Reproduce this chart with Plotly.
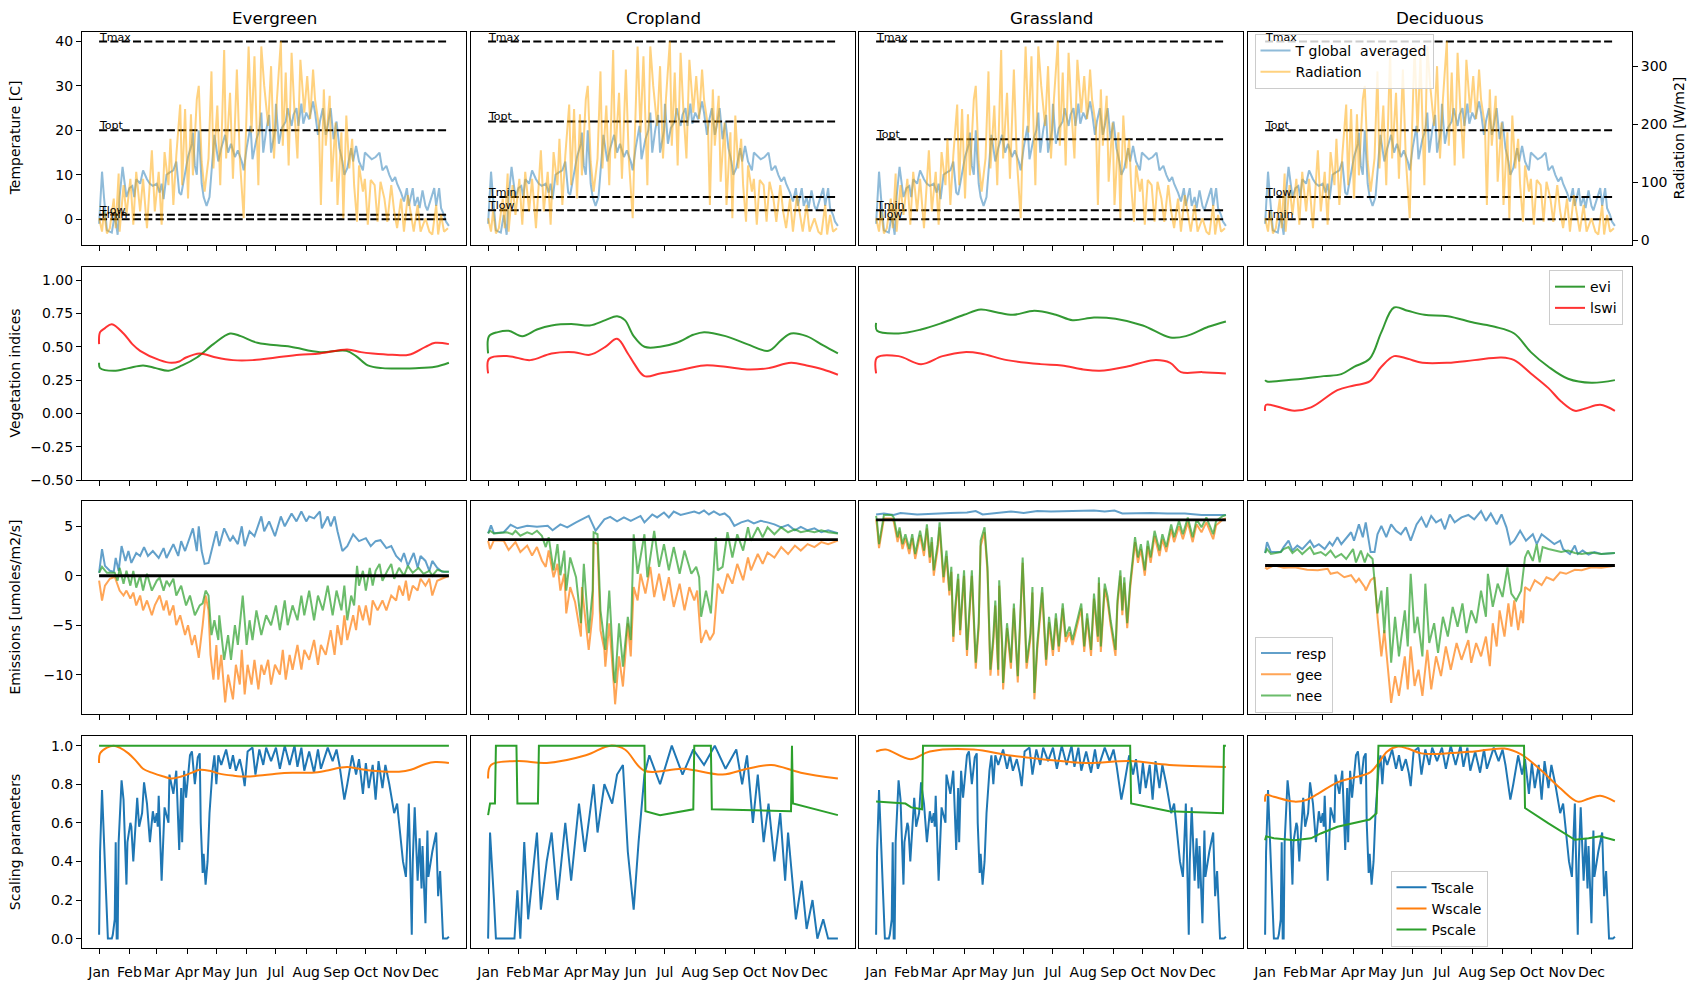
import plotly.graph_objects as go

W, H = 1697, 990
FONT = "DejaVu Sans"

COLUMNS = ["Evergreen", "Cropland", "Grassland", "Deciduous"]
MONTHS = ["Jan", "Feb", "Mar", "Apr", "May", "Jun", "Jul", "Aug", "Sep", "Oct", "Nov", "Dec"]
MONTH_START_DAYS = [0, 31, 59, 90, 120, 151, 181, 212, 243, 273, 304, 334]

# Temperature thresholds per column
TMAX = [40, 40, 40, 40]
TOPT = [20, 22, 18, 20]
TMIN = [0, 5, 2, 0]
TLOW = [1, 2, 0, 5]

# Horizontal reference line in the emissions row, per column
EMIS_REF = [0.0, 3.65, 5.65, 1.04]

# (day, value) pairs
TEMP = [(0,-1),(3,10.7),(5,5),(8,-2.5),(13,-3),(16,1),(19,-3.5),(21,5),(24,11.8),(27,7),(28,5),(31,7),(34,7.5),(36,5),(38,9),(42,8),(45,11),(49,9),(52,8),(55,7.5),(59,8),(62,6),(64,8),(66,4.5),(69,10),(72,10.5),(76,11),(79,13),(82,6),(84,5.5),(88,10),(91,14),(95,17),(96,19.5),(98,12),(100,10),(102,20),(105,8),(107,5),(110,3),(113,5),(115,10),(118,19),(122,13),(125,16),(129,19),(132,15),(135,17),(139,14),(142,15.5),(146,13),(148,11),(151,16),(155,21),(157,13.5),(161,18),(164,20),(166,24),(168,15),(171,20),(174,23.5),(176,15),(180,20),(181,26),(184,17),(187,20.5),(191,22),(193,25),(197,21),(199,23.5),(202,25),(204,21),(207,26),(209,21.5),(212,24),(215,22.5),(219,26.5),(221,24),(224,19),(226,22),(229,25),(232,19),(234,21),(237,25),(240,18),(243,22),(246,16),(249,13),(251,10),(254,11.5),(258,16),(260,13),(263,16.5),(266,13),(270,11),(272,15),(276,14),(279,13.5),(283,14),(287,15),(290,11),(294,12),(297,10),(300,8.5),(303,9.5),(305,8),(309,6),(312,4),(315,7),(317,3),(321,7),(323,3),(326,5),(328,2.5),(331,6.5),(334,3),(336,2),(340,5),(343,7),(345,3),(348,7),(350,2.5),(353,1),(355,-0.5),(358,-1.5)]

RADIATION = [(0,38),(3,15),(5,50),(8,12),(11,21),(15,72),(17,21),(20,115),(21,15),(25,95),(28,44),(32,106),(35,27),(38,118),(42,50),(45,106),(49,21),(54,155),(57,50),(61,118),(64,27),(67,152),(71,95),(73,175),(76,61),(79,146),(83,234),(85,95),(88,226),(91,72),(94,217),(96,112),(100,243),(102,266),(105,135),(108,84),(112,141),(115,291),(117,124),(121,232),(124,95),(128,328),(130,141),(134,254),(137,106),(141,294),(144,141),(148,38),(150,169),(153,334),(156,186),(159,317),(163,95),(166,334),(169,266),(173,197),(176,300),(179,141),(182,243),(186,343),(188,163),(191,289),(194,129),(197,323),(200,220),(203,141),(206,311),(210,220),(213,283),(216,209),(219,294),(221,243),(225,197),(227,61),(230,260),(232,163),(236,249),(238,101),(242,203),(244,61),(248,186),(250,38),(253,215),(256,124),(259,175),(261,95),(264,32),(266,129),(270,84),(272,106),(275,27),(278,104),(282,95),(285,32),(288,101),(292,72),(295,32),(299,95),(302,50),(305,21),(309,72),(312,15),(316,78),(319,44),(322,15),(326,61),(329,15),(334,38),(338,15),(341,10),(345,61),(347,10),(350,44),(353,15),(357,21)]

EVI = [
    [(0,0.38),(1,0.34),(15,0.32),(30,0.34),(45,0.36),(58,0.34),(71,0.32),(85,0.36),(100,0.42),(117,0.52),(134,0.60),(145,0.58),(162,0.53),(196,0.50),(226,0.46),(253,0.47),(263,0.43),(275,0.36),(290,0.34),(324,0.34),(344,0.35),(358,0.38)],
    [(0,0.45),(1,0.58),(10,0.61),(21,0.62),(35,0.58),(50,0.63),(65,0.66),(88,0.67),(104,0.66),(120,0.70),(132,0.73),(140,0.70),(149,0.58),(160,0.50),(176,0.50),(193,0.53),(210,0.59),(221,0.61),(243,0.58),(265,0.52),(287,0.47),(300,0.55),(310,0.60),(326,0.58),(343,0.51),(358,0.45)],
    [(0,0.68),(1,0.62),(23,0.60),(46,0.63),(68,0.68),(90,0.74),(107,0.78),(123,0.76),(140,0.74),(162,0.77),(184,0.74),(201,0.70),(223,0.72),(245,0.71),(273,0.66),(301,0.57),(317,0.58),(340,0.65),(358,0.69)],
    [(0,0.25),(2,0.24),(30,0.255),(60,0.28),(78,0.295),(91,0.35),(107,0.41),(119,0.61),(132,0.795),(146,0.77),(163,0.74),(187,0.73),(214,0.68),(235,0.65),(255,0.60),(272,0.46),(290,0.35),(310,0.26),(334,0.23),(358,0.25)],
]
LSWI = [
    [(0,0.52),(1,0.61),(6,0.64),(13,0.67),(25,0.60),(34,0.52),(42,0.47),(62,0.40),(74,0.38),(82,0.39),(89,0.42),(103,0.45),(110,0.44),(120,0.42),(137,0.40),(157,0.40),(181,0.42),(205,0.44),(226,0.45),(254,0.48),(268,0.46),(280,0.45),(300,0.44),(317,0.44),(334,0.50),(344,0.53),(358,0.52)],
    [(0,0.30),(1,0.41),(21,0.43),(43,0.40),(65,0.45),(88,0.46),(104,0.44),(120,0.50),(132,0.56),(143,0.45),(149,0.38),(160,0.28),(176,0.30),(193,0.32),(221,0.36),(243,0.35),(265,0.33),(287,0.34),(310,0.38),(326,0.36),(343,0.33),(358,0.29)],
    [(0,0.30),(1,0.42),(23,0.43),(46,0.37),(68,0.43),(90,0.46),(107,0.45),(134,0.40),(168,0.37),(190,0.36),(212,0.33),(229,0.32),(256,0.35),(284,0.40),(301,0.38),(312,0.31),(334,0.31),(358,0.30)],
    [(0,0.02),(1,0.065),(30,0.02),(47,0.045),(74,0.175),(91,0.21),(107,0.24),(119,0.35),(132,0.43),(146,0.41),(161,0.38),(187,0.38),(214,0.40),(242,0.42),(255,0.40),(272,0.30),(290,0.19),(303,0.09),(317,0.02),(327,0.035),(343,0.065),(358,0.02)],
]

RESP = [
    [(0,0.3),(3,2.7),(6,1),(11,0.5),(15,0.4),(17,1.8),(20,0.5),(23,3),(27,1.5),(30,2.5),(33,1.3),(38,2.3),(42,2),(46,2.9),(50,2),(55,2.5),(61,1.8),(66,2.8),(69,1.8),(76,3.2),(81,2),(84,3.5),(88,2.5),(96,4.8),(100,2.5),(102,5),(105,2.5),(108,1.2),(112,1.3),(117,3.5),(120,4.5),(123,3),(128,4.8),(134,3.5),(137,4),(142,3.2),(146,5),(149,3),(154,4.5),(159,4),(166,6),(169,4.5),(174,5.5),(180,4),(186,6),(190,5),(197,6.3),(202,5.5),(207,6.5),(212,5.5),(215,6),(220,5.8),(226,6.5),(228,4.8),(234,6),(237,5),(241,6),(244,4.5),(249,2.5),(254,3),(260,4.2),(266,3.5),(273,3.8),(278,3),(283,3.5),(288,3.6),(294,2.8),(299,3),(304,2),(309,1.5),(312,2.3),(316,1),(322,2.3),(326,0.8),(329,2),(334,1.5),(338,0.5),(341,1.5),(346,0.8),(351,0.4),(358,0.4)],
    [(0,4.28),(3,5.1),(6,4.3),(16,4.4),(23,5.15),(30,4.8),(40,5.05),(50,4.95),(61,5.05),(66,4.6),(74,5.2),(81,4.9),(90,5.4),(96,5.7),(103,6.05),(107,5.2),(110,4.55),(119,5.7),(125,5.95),(132,5.5),(139,5.9),(146,5.55),(156,6.05),(160,5.4),(168,6.2),(173,5.9),(180,6.4),(185,5.9),(190,6.5),(197,6.15),(204,6.3),(211,6.5),(216,6.3),(221,6.6),(226,6.2),(231,6.5),(237,6.15),(242,6.3),(247,5.9),(252,5.05),(259,5.4),(266,5.6),(272,5.3),(279,5.55),(286,5.4),(293,5.2),(300,4.9),(307,5.15),(314,4.6),(320,4.95),(327,4.6),(334,4.8),(341,4.4),(348,4.6),(358,4.3)],
    [(0,6.2),(8,6.3),(18,6.15),(25,6.35),(42,6.2),(59,6.3),(76,6.35),(93,6.4),(102,6.55),(109,6.2),(121,6.35),(138,6.5),(151,6.35),(165,6.55),(179,6.5),(196,6.55),(213,6.6),(223,6.6),(234,6.5),(244,6.6),(252,6.3),(264,6.35),(281,6.35),(298,6.3),(316,6.3),(333,6.15),(350,6.2),(358,6.15)],
    [(0,2.3),(2,3.4),(6,2.4),(16,2.4),(19,2.9),(24,3.55),(28,2.55),(33,3.05),(38,2.7),(46,3.55),(50,2.9),(55,3.2),(61,2.7),(66,3.4),(69,3.05),(74,3.9),(78,3.2),(88,4.4),(91,3.55),(96,5.2),(100,3.9),(103,5.4),(108,2.4),(112,2.4),(115,4.2),(119,5.05),(124,3.9),(129,5.2),(134,4.55),(139,4.2),(144,4.9),(149,3.55),(155,5.2),(160,5.9),(165,4.9),(170,6.05),(175,5.4),(180,5.7),(184,4.7),(189,6.2),(194,5.4),(201,5.9),(208,6.15),(214,5.7),(221,6.55),(226,5.55),(231,6.3),(237,5.2),(242,6.2),(247,4.9),(251,3.2),(255,3.55),(261,4.55),(267,3.55),(274,4.2),(278,3.2),(283,4.2),(290,3.7),(296,3.2),(302,3.55),(305,2.7),(312,2.2),(317,3.05),(320,2.2),(325,2.55),(331,2.15),(337,2.4),(344,2.2),(358,2.3)],
]
GEE = [
    [(0,-0.5),(3,-2.5),(6,-1),(11,-0.3),(16,-0.1),(19,-1),(21,-1.5),(25,-2),(28,-1.5),(32,-2.3),(35,-1.7),(38,-3),(42,-2),(45,-3.5),(49,-2.5),(54,-4),(57,-3),(62,-2),(66,-3.5),(69,-2.5),(72,-4),(76,-3),(79,-5),(83,-4),(88,-6),(91,-5),(95,-7),(98,-6),(102,-8.3),(106,-5),(109,-2),(112,-3.5),(114,-8),(117,-10.5),(120,-7),(122,-10.5),(125,-8),(129,-12.8),(132,-10),(137,-12.5),(140,-9),(144,-11),(146,-7.5),(149,-12),(152,-9),(156,-11),(159,-8.5),(163,-11.5),(166,-9),(169,-10),(173,-8.5),(176,-11),(180,-9),(185,-10),(188,-7.5),(191,-10.5),(195,-8),(198,-9.5),(203,-7),(207,-9.5),(210,-7.5),(215,-8.5),(220,-6.5),(224,-9),(227,-7),(232,-8),(237,-5.5),(241,-8),(244,-5),(248,-7),(251,-4),(254,-6.5),(260,-4),(263,-5.5),(266,-3),(270,-4.5),(273,-3),(277,-5),(280,-2.5),(285,-3.5),(290,-2.5),(294,-3.5),(299,-2),(304,-2.5),(307,-1),(311,-2),(314,-0.5),(317,-2.5),(321,-1),(326,-1.5),(329,-0.3),(334,-1),(338,-0.3),(341,-2),(346,-0.5),(353,-0.2),(358,0)],
    [(0,3.55),(2,2.7),(6,3.6),(16,3.55),(21,2.6),(28,3.4),(33,2.4),(40,3.05),(45,2.05),(50,2.9),(55,1.55),(59,0.9),(62,2.55),(67,-0.15),(71,1.2),(74,-1.5),(78,0.2),(80,-3.8),(84,-1.15),(89,-2.65),(95,-6.15),(96,-1.15),(103,-7.5),(107,-3.8),(108,3.4),(112,3.2),(115,-5.5),(119,-7.5),(120,-9.2),(124,-4.8),(129,-11.5),(130,-13),(134,-8.15),(138,-11.2),(143,-4.8),(146,-8.15),(149,-1.15),(153,-2.5),(156,0.2),(161,-1.8),(166,0.9),(170,-2.15),(175,0.2),(180,-2.5),(185,-0.15),(190,-3.15),(196,-0.8),(201,-3.5),(206,-1.15),(211,-2.5),(214,-1.5),(218,-6.8),(223,-5.5),(227,-6.5),(231,-5.8),(235,-0.8),(240,-1.8),(245,0.2),(250,-0.8),(255,1.2),(261,-0.45),(266,1.85),(269,0.55),(276,2.2),(281,1.2),(286,2.35),(293,1.85),(300,2.9),(307,2.2),(314,3.05),(320,2.55),(327,3.2),(334,2.9),(341,3.4),(348,3.2),(358,3.55)],
    [(0,5.7),(1,5.0),(3,2.8),(6,4.8),(8,5.8),(16,5.8),(18,5.5),(22,3.4),(24,4.5),(27,2.7),(30,3.8),(34,2.2),(37,3.8),(40,1.7),(45,4.1),(49,2.0),(52,4.8),(55,1.3),(57,3.4),(59,0.0),(63,2.7),(65,4.9),(69,-0.7),(72,2.0),(75,-2.0),(77,0.4),(79,-6.7),(81,-3.7),(84,-0.3),(86,-6.0),(90,0.0),(93,-8.1),(98,0.0),(102,-9.4),(105,-5.3),(107,3.0),(111,4.4),(114,0.4),(117,-10.1),(120,-6.7),(122,-3.0),(125,-10.1),(126,-1.0),(129,-7.4),(130,-11.5),(134,-5.3),(138,-9.4),(141,-3.3),(145,-10.8),(150,1.3),(154,-9.4),(158,-6.3),(160,-1.7),(162,-12.5),(165,-7.4),(170,-1.7),(174,-9.1),(177,-4.7),(181,-8.1),(184,-4.3),(187,-7.7),(191,-3.3),(194,-6.7),(198,-5.7),(201,-7.0),(210,-3.3),(213,-7.7),(216,-4.3),(220,-8.1),(223,-2.3),(227,-6.7),(228,-0.7),(230,-7.7),(234,-1.3),(237,-2.7),(240,-5.0),(245,-8.1),(247,-3.0),(250,0.0),(252,-4.0),(254,-0.7),(257,-5.3),(260,-1.3),(265,3.4),(268,1.3),(271,2.7),(275,0.0),(278,3.0),(281,1.3),(285,4.0),(290,2.0),(293,3.7),(297,2.4),(302,4.7),(305,3.4),(310,5.0),(314,3.7),(319,5.4),(324,3.4),(328,5.2),(333,4.4),(338,5.4),(345,3.7),(348,5.1),(355,5.7),(358,5.8)],
    [(0,0.85),(2,0.7),(9,1.05),(19,0.8),(30,0.85),(43,0.6),(54,0.55),(64,0.7),(67,0.2),(74,0.35),(81,-0.15),(88,0.05),(93,-0.65),(96,-0.3),(102,-1.15),(103,-1.5),(108,-0.45),(112,-0.15),(115,-4.15),(119,-8.15),(122,-5.5),(125,-8.8),(129,-12.85),(133,-10.15),(137,-12.15),(143,-8.15),(146,-11.5),(149,-7.15),(153,-11.15),(157,-9.5),(161,-12.15),(166,-7.5),(170,-11.5),(175,-8.15),(180,-10.15),(185,-7.15),(190,-9.5),(196,-6.8),(201,-8.5),(208,-6.5),(211,-8.8),(216,-6.8),(221,-8.15),(226,-6.15),(230,-9.15),(233,-4.8),(237,-7.15),(240,-3.5),(245,-6.15),(249,-2.8),(252,-5.15),(255,-2.5),(259,-5.5),(262,-3.5),(264,-4.8),(266,-1.15),(271,-1.5),(276,-0.45),(283,-0.95),(288,-0.15),(295,-0.45),(302,0.35),(308,0.2),(317,0.6),(324,0.55),(334,0.85),(344,0.8),(355,0.95),(358,1.05)],
]
NEE = [
    [(0,0.3),(3,0.9),(8,0.3),(16,0.3),(19,-0.5),(21,0.8),(25,-0.8),(28,0.5),(32,-1),(35,0.5),(38,-1.2),(42,0),(45,-1.5),(49,0.2),(54,-1.5),(59,-0.5),(62,-0.2),(66,-1.5),(69,-0.5),(72,-1),(76,-0.3),(79,-2),(84,-1),(89,-3),(93,-2),(98,-4),(103,-3),(106,-2.8),(109,-1.5),(112,-2),(115,-6),(118,-4.5),(122,-6.5),(123,-4),(128,-8.5),(132,-6),(135,-8.5),(139,-5),(142,-7),(147,-2),(151,-7),(154,-4.5),(157,-6.5),(161,-3.5),(166,-6),(171,-4),(176,-5),(181,-3),(185,-5.5),(190,-2.5),(193,-5),(198,-3),(203,-4.5),(207,-2),(210,-4),(215,-1.5),(220,-4.5),(224,-2),(229,-3.5),(234,-1),(239,-4),(243,-1.5),(248,-3.5),(251,-1),(254,-4.5),(258,-2),(261,-3),(264,1),(266,-1),(270,0.5),(273,-1.5),(277,0.8),(280,-1),(283,0.5),(287,1.2),(290,-0.5),(295,0.5),(299,1.2),(302,-0.3),(307,0.8),(312,0),(316,1),(321,0.3),(327,0.8),(332,0.2),(338,0.5),(341,0),(346,0.6),(353,0.4),(358,0.4)],
    [(0,4.28),(2,4.55),(6,4.28),(19,4.4),(25,4.2),(28,4.55),(33,4.05),(40,4.4),(45,4.2),(50,4.55),(55,4.05),(59,2.9),(62,3.9),(67,0.55),(71,3.2),(74,0.05),(78,2.55),(80,-1.5),(84,1.85),(90,-0.15),(95,-4.8),(98,1.2),(103,-5.8),(107,-1.5),(108,4.4),(112,4.2),(115,-3.5),(119,-6.5),(120,-7.5),(124,-1.5),(129,-10.5),(130,-10.85),(134,-4.8),(138,-9.2),(143,-4.15),(146,-6.5),(149,4.2),(153,0.2),(160,4.2),(163,-0.15),(170,4.55),(175,0.9),(180,3.2),(185,0.55),(190,2.9),(196,0.2),(201,2.55),(208,0.2),(213,0.9),(216,-0.15),(218,-4.15),(223,-1.5),(228,-3.8),(233,3.9),(235,0.55),(240,0.9),(245,4.4),(250,1.85),(255,4.2),(261,2.55),(266,4.9),(269,3.55),(276,4.9),(281,3.9),(286,4.9),(293,4.2),(300,4.9),(307,4.4),(314,4.7),(320,4.4),(327,4.55),(334,4.4),(341,4.6),(348,4.4),(358,4.28)],
    [(0,6.05),(1,5.4),(3,3.2),(6,5.2),(8,6.15),(16,6.15),(18,5.9),(22,3.9),(24,4.9),(27,3.2),(30,4.2),(34,2.7),(37,4.2),(40,2.2),(45,4.55),(49,2.55),(52,5.2),(55,1.85),(57,3.9),(59,0.55),(63,3.2),(65,5.4),(69,-0.15),(72,2.55),(75,-1.5),(77,0.9),(79,-6.15),(81,-3.15),(84,0.2),(86,-5.5),(90,0.55),(93,-7.5),(98,0.55),(102,-8.8),(105,-4.8),(107,3.55),(111,4.9),(114,0.9),(117,-9.5),(120,-6.15),(122,-2.5),(125,-9.5),(126,-0.45),(129,-6.8),(130,-10.85),(134,-4.8),(138,-8.8),(141,-2.8),(145,-10.15),(150,1.85),(154,-8.8),(158,-5.8),(160,-1.15),(162,-11.85),(165,-6.8),(170,-1.15),(174,-8.5),(177,-4.15),(181,-7.5),(184,-3.8),(187,-7.15),(191,-2.8),(194,-6.15),(198,-5.15),(201,-6.5),(210,-2.8),(213,-7.15),(216,-3.8),(220,-7.5),(223,-1.8),(227,-6.15),(228,-0.15),(230,-7.15),(234,-0.8),(237,-2.15),(240,-4.5),(245,-7.5),(247,-2.5),(250,0.55),(252,-3.5),(254,-0.15),(257,-4.8),(260,-0.8),(265,3.9),(268,1.85),(271,3.2),(275,0.55),(278,3.55),(281,1.85),(285,4.55),(290,2.55),(293,4.2),(297,2.9),(302,5.2),(305,3.9),(310,5.55),(314,4.2),(319,5.9),(324,3.9),(328,5.7),(333,4.9),(338,5.9),(345,4.2),(348,5.55),(355,6.05),(358,6.15)],
    [(0,2.3),(2,2.7),(6,2.2),(16,2.4),(19,2.7),(24,2.9),(28,2.3),(33,2.7),(38,2.2),(46,2.9),(50,2.2),(57,2.4),(62,2.05),(67,2.55),(72,1.85),(78,2.2),(83,1.7),(90,2.7),(93,1.35),(98,2.55),(102,1.35),(105,2.2),(110,1.7),(112,-0.45),(115,-3.8),(119,-1.5),(122,-5.8),(125,-1.15),(129,-8.8),(133,-4.15),(137,-8.15),(143,-3.5),(146,-7.15),(149,0.2),(153,-5.8),(156,-4.15),(161,-8.15),(164,-0.8),(168,-6.8),(173,-4.8),(177,-7.8),(182,-4.15),(187,-6.15),(192,-3.15),(197,-5.15),(202,-2.8),(206,-5.8),(211,-3.5),(216,-4.8),(221,-1.5),(226,-4.15),(228,0.2),(233,-3.15),(238,-0.8),(243,-2.15),(248,0.85),(252,-1.8),(257,-2.5),(262,-1.5),(266,1.85),(269,2.55),(274,1.5),(278,3.2),(281,1.35),(284,2.9),(290,2.7),(296,2.55),(303,2.4),(310,2.55),(317,2.3),(324,2.2),(334,2.35),(344,2.2),(358,2.3)],
]

# Temperature scale (Evergreen and Deciduous share thresholds, identical curve)
TSCALE_T0 = [(0,0.02),(1,0.45),(3,0.77),(5,0.55),(7,0.25),(9,0.0),(13,0.0),(14,0.02),(15,0.08),(16,0.1),(17,0.5),(18,0.0),(19,0.0),(20,0.5),(23,0.82),(25,0.72),(28,0.28),(29,0.5),(32,0.6),(33,0.58),(35,0.4),(38,0.7),(39,0.73),(41,0.58),(44,0.65),(46,0.81),(49,0.7),(52,0.5),(55,0.66),(57,0.6),(59,0.65),(60,0.58),(61,0.74),(64,0.3),(66,0.55),(67,0.68),(71,0.6),(72,0.85),(76,0.75),(79,0.87),(82,0.46),(84,0.78),(85,0.5),(87,0.87),(89,0.73),(93,0.95),(95,0.97),(98,0.8),(101,0.94),(103,0.96),(104,0.6),(106,0.34),(107,0.44),(109,0.28),(111,0.4),(113,0.65),(116,0.87),(118,0.95),(120,0.8),(122,0.95),(125,0.9),(130,0.98),(134,0.88),(137,0.95),(140,0.87),(144,0.93),(147,0.86),(149,0.79),(152,0.97),(157,0.99),(160,0.85),(164,0.98),(168,0.9),(171,0.99),(176,0.92),(181,0.99),(185,0.88),(190,1.0),(195,0.9),(200,1.0),(203,0.89),(207,0.99),(210,0.87),(215,0.97),(220,0.86),(224,0.98),(227,0.88),(234,0.99),(239,0.92),(243,0.98),(246,0.9),(251,0.72),(254,0.8),(259,0.95),(263,0.85),(266,0.93),(270,0.75),(273,0.91),(276,0.78),(280,0.9),(283,0.72),(286,0.92),(290,0.78),(293,0.9),(297,0.8),(300,0.72),(302,0.65),(305,0.7),(307,0.6),(311,0.4),(314,0.32),(317,0.7),(320,0.02),(321,0.4),(323,0.68),(326,0.3),(328,0.52),(330,0.26),(331,0.48),(334,0.08),(336,0.56),(337,0.32),(341,0.45),(345,0.55),(347,0.22),(349,0.35),(352,0.0),(356,0.0),(358,0.01)]
TSCALE_CROPLAND = [(0,0.0),(2,0.55),(6,0.2),(8,0.0),(27,0.0),(30,0.25),(33,0.0),(37,0.5),(41,0.1),(46,0.35),(50,0.55),(54,0.15),(60,0.4),(65,0.55),(71,0.2),(79,0.6),(85,0.3),(93,0.7),(99,0.45),(108,0.8),(112,0.55),(119,0.8),(127,0.7),(132,0.85),(138,0.9),(143,0.45),(149,0.15),(154,0.5),(160,0.85),(165,0.95),(176,0.8),(188,1.0),(199,0.85),(210,0.98),(221,0.9),(232,1.0),(243,0.88),(254,0.98),(260,0.8),(265,0.95),(271,0.6),(276,0.85),(282,0.5),(287,0.7),(293,0.4),(299,0.65),(304,0.3),(307,0.55),(315,0.1),(321,0.3),(326,0.05),(332,0.2),(337,0.0),(343,0.1),(348,0.0),(358,0.0)]
TSCALE_GRASSLAND = TSCALE_T0
TSCALE = [TSCALE_T0, TSCALE_CROPLAND, TSCALE_GRASSLAND, TSCALE_T0]

WSCALE = [
    [(0,0.91),(1,0.96),(8,0.99),(15,1.0),(21,0.99),(30,0.96),(38,0.92),(45,0.88),(54,0.86),(66,0.84),(74,0.83),(84,0.84),(95,0.86),(103,0.875),(113,0.87),(123,0.855),(137,0.845),(150,0.84),(164,0.845),(181,0.855),(198,0.86),(218,0.86),(232,0.87),(246,0.885),(254,0.89),(266,0.88),(280,0.87),(294,0.865),(307,0.865),(319,0.875),(334,0.905),(344,0.915),(358,0.91)],
    [(0,0.83),(3,0.90),(30,0.92),(60,0.91),(100,0.95),(125,1.0),(140,0.98),(160,0.87),(200,0.88),(240,0.85),(265,0.88),(290,0.9),(320,0.86),(358,0.83)],
    [(0,0.97),(10,0.98),(35,0.93),(55,0.97),(100,0.98),(135,0.95),(170,0.93),(215,0.91),(260,0.92),(300,0.9),(358,0.89)],
    [(0,0.71),(1,0.745),(9,0.735),(30,0.71),(43,0.72),(54,0.75),(74,0.81),(91,0.835),(107,0.86),(116,0.91),(125,0.97),(136,0.995),(146,0.985),(160,0.96),(187,0.96),(214,0.97),(245,0.985),(262,0.955),(283,0.87),(303,0.775),(320,0.71),(331,0.725),(343,0.74),(358,0.71)],
]
PSCALE = [
    [(0,1.0),(358,1.0)],
    [(0,0.64),(2,0.70),(7,0.70),(8,1.0),(29,1.0),(30,0.70),(51,0.70),(52,1.0),(160,1.0),(161,0.66),(176,0.64),(210,0.67),(211,1.0),(228,1.0),(229,0.67),(310,0.66),(311,1.0),(312,0.70),(358,0.64)],
    [(0,0.71),(30,0.70),(36,0.68),(47,0.67),(48,1.0),(260,1.0),(261,0.70),(300,0.66),(355,0.65),(356,1.0),(358,1.0)],
    [(0,0.51),(1,0.53),(9,0.52),(30,0.51),(47,0.52),(57,0.545),(74,0.58),(91,0.60),(107,0.617),(114,0.65),(116,1.0),(265,1.0),(266,0.677),(290,0.597),(317,0.512),(331,0.52),(343,0.53),(358,0.51)],
]

# ---------------- layout geometry (pixels) ----------------
X_EDGES = [(82, 466), (471, 855), (859, 1243), (1248, 1632)]
Y_EDGES = [(32, 247), (269, 484), (505, 720), (742, 956)]
X_RANGE = [-17.5, 375.5]
Y_RANGES = [[-5.8, 42.2], [-0.5, 1.1], [-14.0, 7.57], [-0.05, 1.05]]
Y_TICKS = [[0, 10, 20, 30, 40], [-0.5, -0.25, 0, 0.25, 0.5, 0.75, 1.0],
           [-10, -5, 0, 5], [0, 0.2, 0.4, 0.6, 0.8, 1.0]]
Y_FMT = ["d", ".2f", "d", ".1f"]
RAD_RANGE = [-8.0, 359.3]
ROW_TITLES = ["Temperature [C]", "Vegetation indices", "Emissions [umoles/m2/s]", "Scaling parameters"]
# legend box centres (pixels)
LEGEND_CENTRES = [(1344, 62), (1586, 300), (1294, 680), (1439, 916)]


def unzip(pairs):
    return [p[0] for p in pairs], [p[1] for p in pairs]


def ax_names(r, c):
    k = r * 4 + c + 1
    return ("x" if k == 1 else f"x{k}"), ("y" if k == 1 else f"y{k}"), k


fig = go.Figure()
layout = dict(width=W, height=H, margin=dict(l=0, r=0, t=0, b=0),
              paper_bgcolor="white", plot_bgcolor="white",
              font=dict(family=FONT, size=14, color="black"),
              showlegend=True)
annotations = []

for r in range(4):
    for c in range(4):
        xn, yn, k = ax_names(r, c)
        x0, x1 = X_EDGES[c]
        y0, y1 = Y_EDGES[r]
        xa = dict(domain=[x0 / W, x1 / W], anchor=yn, range=X_RANGE,
                  tickmode="array", tickvals=MONTH_START_DAYS, ticktext=MONTHS, tickangle=0,
                  showticklabels=(r == 3), ticks="outside", ticklen=5, tickwidth=1.1,
                  ticklabelstandoff=6,
                  tickcolor="black", showline=True, mirror=True, linecolor="black",
                  linewidth=1.1, showgrid=False, zeroline=False,
                  tickfont=dict(size=14, family=FONT, color="black"))
        ya = dict(domain=[1 - y1 / H, 1 - y0 / H], anchor=xn, range=Y_RANGES[r],
                  tickmode="array", tickvals=Y_TICKS[r], tickformat=Y_FMT[r],
                  showticklabels=(c == 0), ticks=("outside" if c == 0 else ""),
                  ticklen=5, tickwidth=1.1, tickcolor="black",
                  showline=True, mirror=True, linecolor="black", linewidth=1.1,
                  showgrid=False, zeroline=False,
                  tickfont=dict(size=14, family=FONT, color="black"))
        layout["xaxis" if k == 1 else f"xaxis{k}"] = xa
        layout["yaxis" if k == 1 else f"yaxis{k}"] = ya

# radiation twin axes on first row
for c in range(4):
    xn, yn, k = ax_names(0, c)
    rk = 17 + c
    layout[f"yaxis{rk}"] = dict(overlaying=yn, anchor=xn, side="right", range=RAD_RANGE,
                               visible=(c == 3), tickmode="array", tickvals=[0, 100, 200, 300],
                               ticks="outside", ticklen=5, tickwidth=1.1, tickcolor="black",
                               showgrid=False, zeroline=False, showline=False,
                               tickfont=dict(size=14, family=FONT, color="black"))

tdays, tvals = unzip(TEMP)
rdays, rvals = unzip(RADIATION)
thresholds = [("Tmax", TMAX), ("Topt", TOPT), ("Tmin", TMIN), ("Tlow", TLOW)]

for c in range(4):
    last = (c == 3)
    # row 1
    xn, yn, k = ax_names(0, c)
    fig.add_trace(go.Scatter(x=tdays, y=tvals, mode="lines", xaxis=xn, yaxis=yn,
                             line=dict(color="rgba(31,119,180,0.5)", width=2),
                             name="T global  averaged", showlegend=last, legend="legend"))
    for label, vals in thresholds:
        fig.add_trace(go.Scatter(x=[tdays[0], tdays[-1]], y=[vals[c], vals[c]], mode="lines",
                                 xaxis=xn, yaxis=yn, showlegend=False, hoverinfo="skip",
                                 line=dict(color="black", width=2, dash="8px,3.3px")))
        annotations.append(dict(x=tdays[0], y=vals[c], xref=xn, yref=yn, text=label,
                                showarrow=False, xanchor="left", yanchor="bottom",
                                xshift=-2, yshift=-4,
                                font=dict(size=11, family=FONT, color="black")))
    fig.add_trace(go.Scatter(x=rdays, y=rvals, mode="lines", xaxis=xn, yaxis=f"y{17 + c}",
                             line=dict(color="rgba(255,165,0,0.5)", width=2),
                             name="Radiation", showlegend=last, legend="legend"))

    # row 2
    xn, yn, k = ax_names(1, c)
    d, v = unzip(EVI[c])
    fig.add_trace(go.Scatter(x=d, y=v, mode="lines", xaxis=xn, yaxis=yn, line_shape="spline",
                             line=dict(color="rgba(0,128,0,0.8)", width=2),
                             name="evi", showlegend=last, legend="legend2"))
    d, v = unzip(LSWI[c])
    fig.add_trace(go.Scatter(x=d, y=v, mode="lines", xaxis=xn, yaxis=yn, line_shape="spline",
                             line=dict(color="rgba(255,0,0,0.8)", width=2),
                             name="lswi", showlegend=last, legend="legend2"))

    # row 3
    xn, yn, k = ax_names(2, c)
    for name, data, col in [("resp", RESP, "rgba(31,119,180,0.7)"),
                            ("gee", GEE, "rgba(255,127,14,0.7)"),
                            ("nee", NEE, "rgba(44,160,44,0.7)")]:
        d, v = unzip(data[c])
        fig.add_trace(go.Scatter(x=d, y=v, mode="lines", xaxis=xn, yaxis=yn,
                                 line=dict(color=col, width=2),
                                 name=name, showlegend=last, legend="legend3"))
    fig.add_trace(go.Scatter(x=[tdays[0], tdays[-1]], y=[EMIS_REF[c], EMIS_REF[c]], mode="lines",
                             xaxis=xn, yaxis=yn, showlegend=False, hoverinfo="skip",
                             line=dict(color="black", width=2.8)))

    # row 4
    xn, yn, k = ax_names(3, c)
    for name, data, col in [("Tscale", TSCALE, "#1f77b4"),
                            ("Wscale", WSCALE, "#ff7f0e"),
                            ("Pscale", PSCALE, "#2ca02c")]:
        d, v = unzip(data[c])
        fig.add_trace(go.Scatter(x=d, y=v, mode="lines", xaxis=xn, yaxis=yn,
                                 line=dict(color=col, width=2),
                                 line_shape=("spline" if name == "Wscale" else "linear"),
                                 name=name, showlegend=last, legend="legend4"))

# column titles
for c, title in enumerate(COLUMNS):
    x0, x1 = X_EDGES[c]
    annotations.append(dict(x=(x0 + x1) / 2 / W, y=1 - 18 / H, xref="paper", yref="paper",
                            text=title, showarrow=False, xanchor="center", yanchor="middle",
                            font=dict(size=16.7, family=FONT, color="black")))
# row titles
for r, title in enumerate(ROW_TITLES):
    y0, y1 = Y_EDGES[r]
    annotations.append(dict(x=15 / W, y=1 - (y0 + y1) / 2 / H, xref="paper", yref="paper",
                            text=title, textangle=-90, showarrow=False,
                            xanchor="center", yanchor="middle",
                            font=dict(size=14, family=FONT, color="black")))
annotations.append(dict(x=1679 / W, y=1 - (Y_EDGES[0][0] + Y_EDGES[0][1]) / 2 / H,
                        xref="paper", yref="paper", text="Radiation [W/m2]", textangle=-90,
                        showarrow=False, xanchor="center", yanchor="middle",
                        font=dict(size=14, family=FONT, color="black")))
layout["annotations"] = annotations

leg_style = dict(bgcolor="rgba(255,255,255,0.8)", bordercolor="#cccccc", borderwidth=1,
                 font=dict(size=14, family=FONT, color="black"), tracegroupgap=0)
for i, (lx, ly) in enumerate(LEGEND_CENTRES):
    key = "legend" if i == 0 else f"legend{i + 1}"
    layout[key] = dict(x=lx / W, y=1 - ly / H, xanchor="center", yanchor="middle", **leg_style)

fig.update_layout(**layout)
fig.write_html("out.html")
